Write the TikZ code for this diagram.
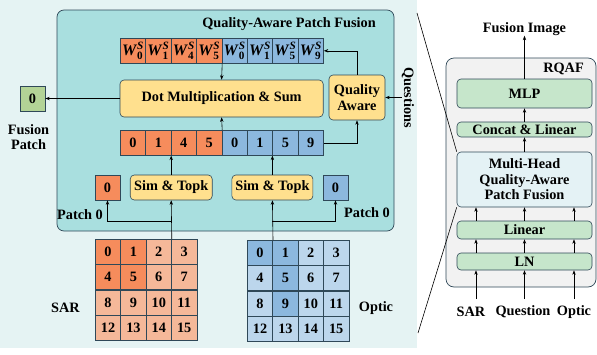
\documentclass[tikz,border=0pt]{standalone}
\usepackage{amsmath}
\usepackage{fontspec}
\setmainfont{Liberation Serif}
\usetikzlibrary{arrows.meta,calc}
\definecolor{bgL}{HTML}{E5F3F3}
\definecolor{teal}{HTML}{A9DFDF}
\definecolor{bd}{HTML}{2F4858}
\definecolor{oD}{HTML}{F68C5C}
\definecolor{oL}{HTML}{F5B899}
\definecolor{bD}{HTML}{8CB8DE}
\definecolor{bL}{HTML}{BCD6EC}
\definecolor{yel}{HTML}{FFE08E}
\definecolor{grn}{HTML}{C6E6CB}
\definecolor{fgrn}{HTML}{B3D396}
\definecolor{mhf}{HTML}{E4F2F5}
\definecolor{gry}{HTML}{F2F2F2}
\newcommand\myfs{\fontsize{14.3}{15.5}\selectfont\bfseries}
\newcommand\wlab[1]{{\fontsize{16}{17}\selectfont$\text{\textit{W}}^{\text{\textit{S}}}_{\text{#1}}$}}
\tikzset{
  cell/.style={draw=bd, line width=0.6pt, minimum width=25.4pt, minimum height=25pt, inner sep=0pt, anchor=north west},
  sq/.style={draw=bd, line width=0.6pt, minimum width=25pt, minimum height=25pt, inner sep=0pt},
  ybox/.style={draw=bd, fill=yel, rounded corners=4pt, line width=0.6pt, inner sep=0pt, align=center},
  gbox/.style={draw=bd, fill=grn, rounded corners=4pt, line width=0.6pt, inner sep=0pt, minimum width=135pt, align=center},
  arr/.style={-{Stealth[length=4.5pt,width=3.4pt]}, line width=0.6pt},
  lab/.style={inner sep=0pt, align=center}
}
\begin{document}
\begin{tikzpicture}[x=1pt,y=-1pt,font=\myfs]
\useasboundingbox (0,0) rectangle (597,354);
% backgrounds
\fill[bgL] (0,0) rectangle (417,348);
\draw[bd, fill=teal, line width=0.7pt, rounded corners=7pt] (57,10) rectangle (394,231);
\node[lab] (title) at (289,24) {Quality-Aware Patch Fusion};
% W row and number row
\foreach \k/\l/\c in {0/0/oD,1/1/oD,2/4/oD,3/5/oD,4/0/bD,5/1/bD,6/5/bD,7/9/bD}{
  \node[cell, fill=\c] (w\k) at (120+\k*25.4, 38) {\wlab{\l}};
  \node[cell, fill=\c] (n\k) at (120+\k*25.4, 130) {\l};
}
\node[ybox, minimum width=203.2pt, minimum height=37pt] (dot) at (221.6,98.5) {Dot Multiplication \& Sum};
\node[ybox, minimum width=56pt, minimum height=45pt] (qa) at (357,97.5) {Quality\\Aware};
\node[lab, rotate=-90] (q) at (408,97.5) {Questions};
\node[sq, fill=fgrn] (fp) at (32.5,98.5) {0};
\node[lab] (fpl) at (28.5,137) {Fusion\\Patch};
% lower row
\node[sq, fill=oD] (sp0) at (107.5,187.5) {0};
\node[ybox, minimum width=82pt, minimum height=25pt] (sim1) at (171.2,187.5) {Sim \& Topk};
\node[ybox, minimum width=81pt, minimum height=25pt] (sim2) at (272.4,187.5) {Sim \& Topk};
\node[sq, fill=bD] (op0) at (335.5,187.5) {0};
\node[lab] (pl1) at (80,215) {Patch 0};
\node[lab] (pl2) at (367,213) {Patch 0};
% grids
\foreach \i/\c in {0/oD,1/oD,2/oL,3/oL,4/oD,5/oD,6/oL,7/oL,8/oL,9/oL,10/oL,11/oL,12/oL,13/oL,14/oL,15/oL}{
  \pgfmathtruncatemacro\rr{floor(\i/4)}
  \pgfmathtruncatemacro\cc{mod(\i,4)}
  \node[cell, fill=\c] (s\i) at (95+\cc*25.4, 239+\rr*25.4) {\i};
}
\foreach \i/\c in {0/bD,1/bD,2/bL,3/bL,4/bL,5/bD,6/bL,7/bL,8/bL,9/bD,10/bL,11/bL,12/bL,13/bL,14/bL,15/bL}{
  \pgfmathtruncatemacro\rr{floor(\i/4)}
  \pgfmathtruncatemacro\cc{mod(\i,4)}
  \node[cell, fill=\c] (o\i) at (247+\cc*25.4, 240+\rr*25.4) {\i};
}
\node[lab] (sarl) at (65.5,308) {SAR};
\node[lab] (optl) at (376,308) {Optic};
% connectors left panel
\draw[arr] (w3.south east) -- (dot.north);
\draw[arr] (n3.north east) -- (dot.south);
\draw[arr] (qa.north) |- (w7.east);
\draw[arr] (n7.east) -| (qa.south);
\draw[arr] (q.south) -- (qa.east);
\draw[arr] (dot.west) -- (fp.east);
\draw[arr] (sim1.north) -- (sim1.north |- n1.south);
\draw[arr] (sim2.north) -- (sim2.north |- n5.south);
\draw[arr] (s2.north east) -- (sim1.south);
\coordinate (sj) at (171.2,221);
\draw[arr] (sj) -| (sp0.south);
\draw[arr] (o0.north east) -- (sim2.south);
\coordinate (oj) at (272.4,221);
\draw[arr] (oj) -| (op0.south);
% right panel
\draw[bd, fill=gry, line width=0.7pt, rounded corners=8pt] (446,58) rectangle (596,287);
\node[lab] (rqaf) at (563.5,69) {RQAF};
\node[lab] (fi) at (524.5,29) {Fusion Image};
\node[gbox, minimum height=29pt] (mlp) at (524.5,93.5) {MLP};
\node[gbox, minimum height=15pt] (cat) at (524.5,129.5) {Concat \& Linear};
\node[gbox, fill=mhf, minimum height=55pt] (mh) at (524.5,179.5) {Multi-Head\\Quality-Aware\\Patch Fusion};
\node[gbox, minimum height=18pt] (lin) at (524.5,230) {Linear};
\node[gbox, minimum height=17pt] (ln) at (524.5,261.5) {LN};
\node[lab] (in1) at (471,312) {SAR};
\node[lab] (in2) at (523,312) {Question};
\node[lab] (in3) at (574,312) {Optic};
\draw[arr] (mlp.north) -- (fi.south);
\draw[arr] (cat.north) -- (mlp.south);
\draw[arr] (mh.north) -- (cat.south);
\foreach \x [count=\j] in {476,524.5,574}{
  \coordinate (a\j) at (\x,299);
  \draw[arr] (a\j) -- (a\j |- ln.south);
  \draw[arr] (a\j |- ln.north) -- (a\j |- lin.south);
  \draw[arr] (a\j |- lin.north) -- (a\j |- mh.south);
}
\coordinate (d1) at (417,13);
\coordinate (d2) at (418,333);
\draw[line width=0.6pt] (d1) -- (mh.north west);
\draw[line width=0.6pt] (d2) -- (mh.south west);
\end{tikzpicture}
\end{document}
